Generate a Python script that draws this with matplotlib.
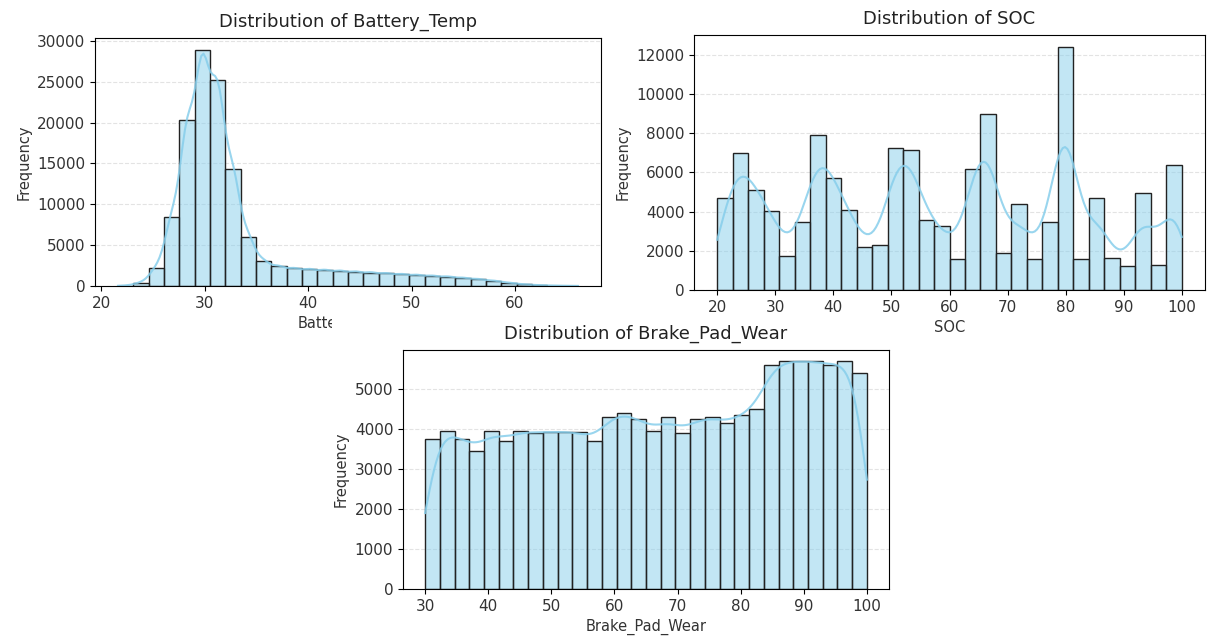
import numpy as np
import matplotlib
matplotlib.use("Agg")
import matplotlib.pyplot as plt
import seaborn as sns
from matplotlib.transforms import Bbox, TransformedBbox

# ---------------- data ----------------
battery_range = (21.6, 66.1)
battery_counts = [50, 400, 2200, 8500, 20300, 28900, 25200, 14300, 6000, 3000,
                  2400, 2150, 2050, 1950, 1850, 1750, 1650, 1550, 1450, 1350,
                  1250, 1150, 1000, 850, 650, 400, 200, 100, 50, 20]

soc_range = (20.0, 100.0)
soc_counts = [4700, 7000, 5100, 4050, 1750, 3450, 7900, 5700, 4100, 2200,
              2300, 7250, 7130, 3550, 3250, 1600, 6200, 9000, 1900, 4400,
              1600, 3450, 12400, 1600, 4700, 1650, 1200, 4950, 1300, 6400]

brake_range = (30.0, 100.0)
brake_counts = [3760, 3960, 3760, 3460, 3960, 3710, 3960, 3900, 3930, 3930,
                3920, 3690, 4300, 4400, 4260, 3940, 4300, 3900, 4260, 4290,
                4150, 4340, 4510, 5590, 5690, 5690, 5690, 5590, 5690, 5410]

n_bins = 30
bw_factor = 0.095

panels = [
    ("Battery_Temp", battery_range, battery_counts),
    ("SOC", soc_range, soc_counts),
    ("Brake_Pad_Wear", brake_range, brake_counts),
]

W, H = 1208, 641
fig = plt.figure(figsize=(W / 100, H / 100), dpi=100)

# axes rectangles in pixels: (left, top, right, bottom)
rects_px = [(95, 38, 601, 286), (694, 35, 1205, 290), (403, 350, 889, 589)]
axes = []
for (l, t, r, b) in rects_px:
    axes.append(fig.add_axes([l / W, (H - b) / H, (r - l) / W, (b - t) / H]))

for ax, (name, rng, counts) in zip(axes, panels):
    lo, hi = rng
    edges = np.linspace(lo, hi, n_bins + 1)
    centers = (edges[:-1] + edges[1:]) / 2
    x = np.concatenate([[lo], centers, [hi]])
    w = np.concatenate([[0], counts, [0]])
    sns.histplot(x=x, weights=w, bins=n_bins, binrange=rng, kde=True,
                 color="skyblue", edgecolor="#222222", ax=ax,
                 kde_kws=dict(bw_method=bw_factor),
                 line_kws=dict(linewidth=1.5, alpha=0.85))
    ax.set_title(f"Distribution of {name}", fontsize=13, pad=8, color="#222222")
    ax.set_xlabel(name, fontsize=10.5, color="#333333")
    ax.set_ylabel("Frequency", fontsize=10.5, color="#333333")
    ax.tick_params(labelsize=11, labelcolor="#333333")
    ax.grid(axis="y", linestyle="--", alpha=0.35)
    ax.set_axisbelow(True)

# the Battery_Temp label is cut off in the reference
lab = axes[0].xaxis.label
lab.set_clip_on(True)
lab.set_clip_box(TransformedBbox(Bbox([[0, 0], [332 / W, 1]]), fig.transFigure))

fig.savefig("out.png", dpi=100)
